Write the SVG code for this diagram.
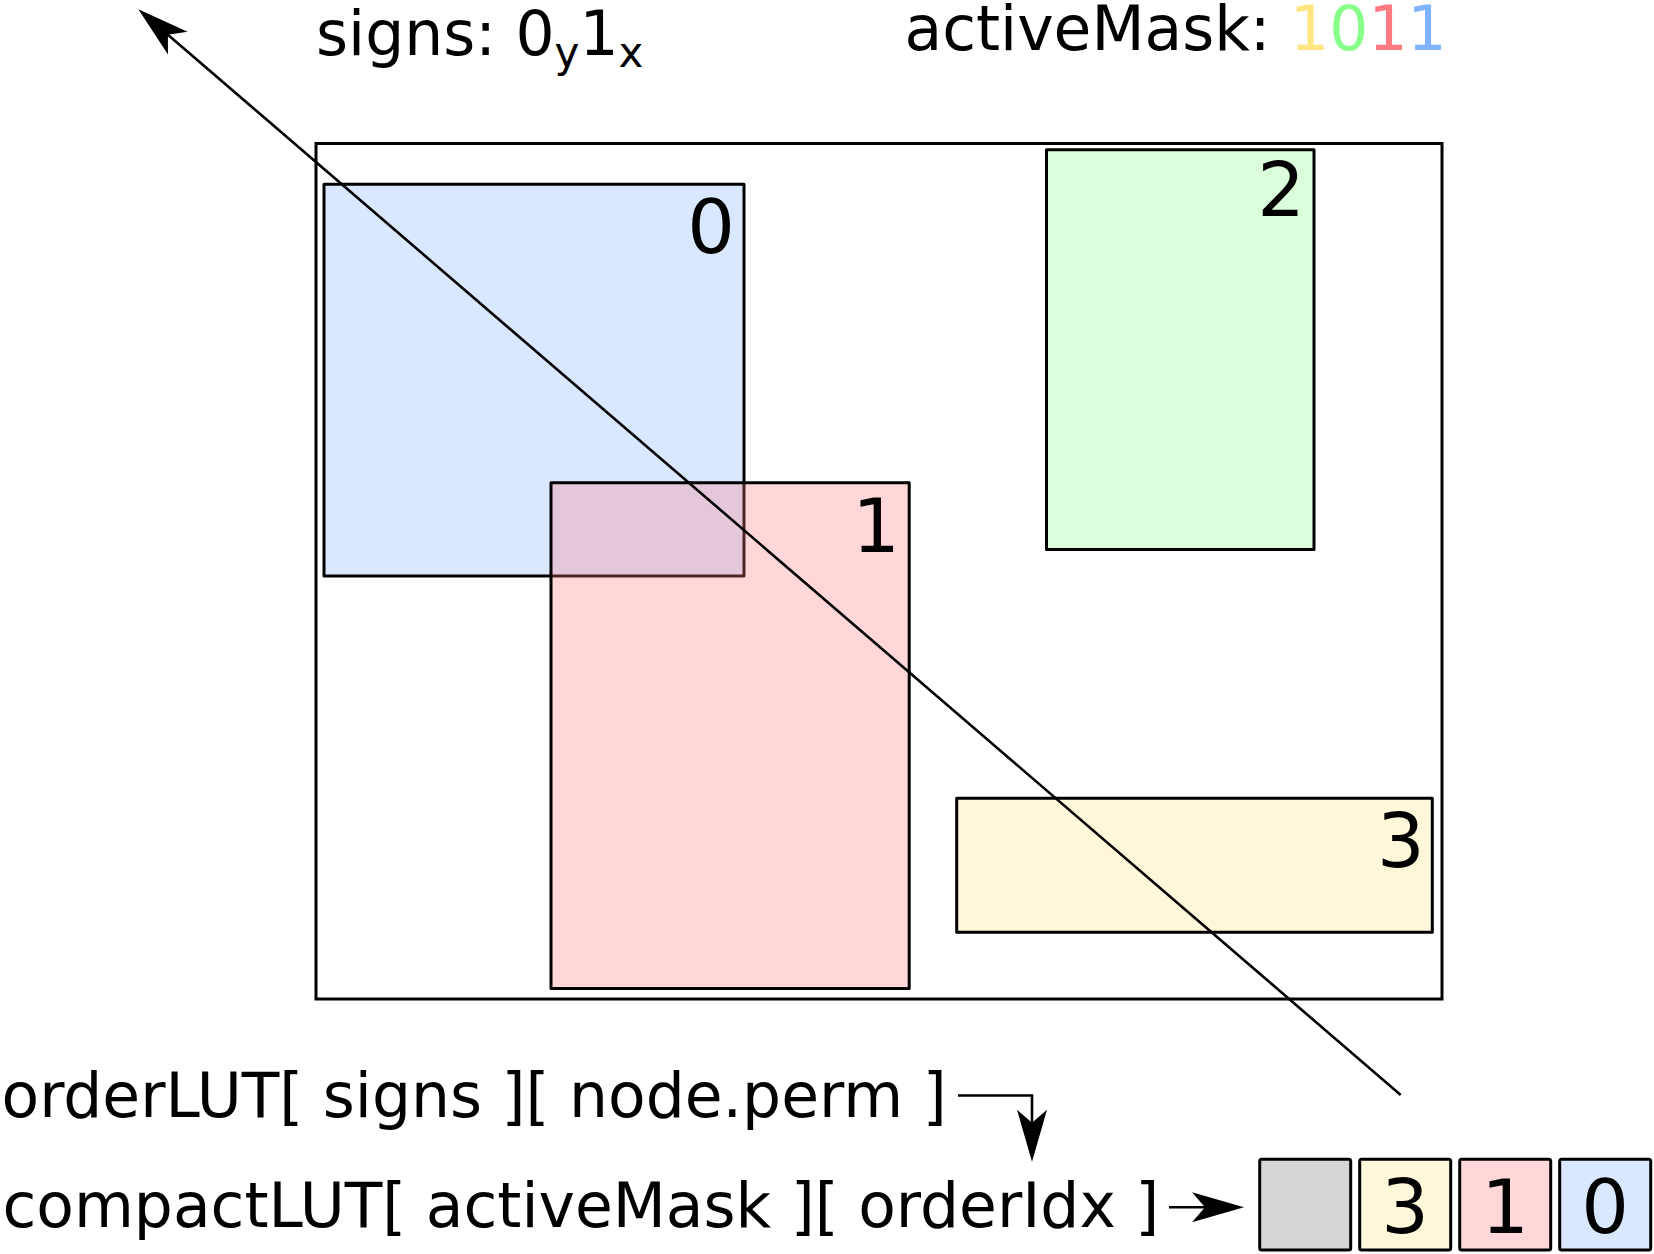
<svg xmlns="http://www.w3.org/2000/svg" width="1654" height="1254" viewBox="0 0 1654 1254">
<style>
text{font-family:"DejaVu Sans","Liberation Sans",sans-serif;fill:#000}
.box{stroke:#000;stroke-width:3;stroke-linejoin:round}
.frame{fill:none;stroke:#000;stroke-width:3}
.big{font-size:75px;text-anchor:end}
.cell{font-size:75px;text-anchor:middle}
.lbl{font-size:61.5px}
.sub{font-size:42px}
.conn{fill:none;stroke:#000;stroke-width:2.6}
.y{fill:#ffe680}.g{fill:#88ff88}.r{fill:#ff7a80}.b{fill:#80b3ff}
.fy{fill:#ffe680;fill-opacity:0.3}.fg{fill:#88ff88;fill-opacity:0.3}.fr{fill:#ff7a80;fill-opacity:0.3}.fb{fill:#80b3ff;fill-opacity:0.3}
</style>
<defs>
<marker id="arr" markerUnits="userSpaceOnUse" orient="auto" refX="-39" refY="0" markerWidth="60" markerHeight="40" overflow="visible">
<path d="M0,0 L-52,-15 L-39,0 L-52,15 Z" fill="#000"/>
</marker>
</defs>
<rect width="1654" height="1254" fill="#fff"/>

<g id="frame"><rect class="frame" x="316" y="143.5" width="1126" height="855.5"/></g>

<g id="node0"><rect class="box fb" x="324" y="184.3" width="420" height="391.7"/><text class="big" x="735" y="253">0</text></g>
<g id="node1"><rect class="box fr" x="551" y="482.7" width="358.2" height="505.7"/><text class="big" x="900" y="551.7">1</text></g>
<g id="node2"><rect class="box fg" x="1046.5" y="149.8" width="267.5" height="399.8"/><text class="big" x="1305" y="215.5">2</text></g>
<g id="node3"><rect class="box fy" x="956.7" y="798.3" width="475.6" height="134"/><text class="big" x="1424.6" y="867.3">3</text></g>

<g id="signs-label"><text class="lbl" x="316" y="55">signs: 0<tspan class="sub" dy="12">y</tspan><tspan class="lbl" dy="-12">1</tspan><tspan class="sub" dy="12">x</tspan></text></g>
<g id="mask-label"><text class="lbl" x="904.5" y="50">activeMask: <tspan class="y">1</tspan><tspan class="g">0</tspan><tspan class="r">1</tspan><tspan class="b">1</tspan></text></g>

<g id="order-label"><text class="lbl" x="1.5" y="1117">orderLUT[ signs ][ node.perm ]</text></g>
<g id="compact-label"><text class="lbl" x="2.5" y="1227">compactLUT[ activeMask ][ orderIdx ]</text></g>

<g id="result">
<rect class="box" fill="#d5d5d5" x="1259.7" y="1159.3" width="91" height="90.7" rx="2"/>
<rect class="box fy" x="1359.7" y="1159.3" width="91" height="90.7" rx="2"/>
<rect class="box fr" x="1459.7" y="1159.3" width="91" height="90.7" rx="2"/>
<rect class="box fb" x="1559.7" y="1159.3" width="91" height="90.7" rx="2"/>
<text class="cell" x="1405.2" y="1233">3</text>
<text class="cell" x="1505.2" y="1233">1</text>
<text class="cell" x="1605.2" y="1233">0</text>
</g>

<g id="connectors">
<line class="conn" x1="1400.7" y1="1095" x2="167.9" y2="34.7" marker-end="url(#arr)"/>
<path class="conn" d="M958,1095.5 H1032 V1122.7" marker-end="url(#arr)"/>
<line class="conn" x1="1169" y1="1207.3" x2="1205" y2="1207.3" marker-end="url(#arr)"/>
</g>
</svg>
